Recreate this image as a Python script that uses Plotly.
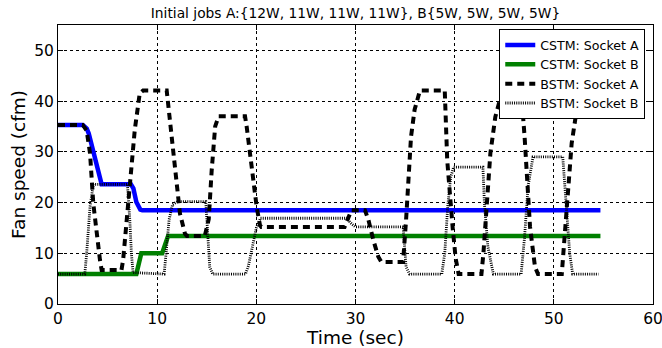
import plotly.graph_objects as go

# Fan speed traces (time in seconds, speed in cfm)
cstm_a_t = [0, 2.5, 2.9, 3.1, 4.4, 7.35, 7.6, 7.9, 8.3, 8.5, 54.7]
cstm_a_v = [35.3, 35.3, 34.6, 33.6, 23.6, 23.6, 22.8, 20.1, 18.6, 18.5, 18.5]

cstm_b_t = [0, 7.9, 8.4, 10.5, 11.1, 54.7]
cstm_b_v = [5.9, 5.9, 10.0, 10.0, 13.4, 13.4]

bstm_a_t = [0, 2.5, 2.89, 3.23, 3.56, 3.9, 4.23, 4.4, 6.4, 6.57, 7.07, 7.74, 8.24, 8.58,
            10.96, 11.3, 11.8, 12.3, 12.8, 13.0, 14.8, 15.2, 15.5, 15.85, 16.2,
            18.86, 19.03, 19.37, 19.7, 20.03, 20.37, 20.5, 28.9, 29.6, 30.95,
            31.3, 31.8, 32.3, 32.6, 34.8, 35.1, 35.3, 35.6, 35.96, 36.5,
            39.0, 39.25, 39.8, 40.1, 40.4, 42.7, 42.9, 43.2, 43.6, 44.1, 44.6, 45.1,
            46.7, 47.05, 47.3, 47.6, 48.1, 48.4, 50.8, 51.1, 51.45, 51.8, 52.3, 53.0, 54.7]
bstm_a_v = [35.3, 35.3, 34.2, 29.7, 19.8, 13.2, 8.7, 6.7, 6.7, 8.7, 19.2, 34.3, 41.5, 42.1,
            42.1, 36.2, 26.4, 17.8, 13.9, 13.4, 13.4, 16.7, 26.4, 35.0, 37.0,
            37.0, 34.9, 29.7, 23.8, 19.2, 15.5, 15.2, 15.2, 18.5, 18.5,
            16.6, 12.6, 9.3, 8.3, 8.3, 16.6, 24.5, 33.0, 38.3, 42.1,
            42.1, 28.3, 15.0, 9.0, 5.9, 5.9, 10.0, 19.8, 29.7, 36.9, 40.5, 42.1,
            42.1, 33.0, 23.2, 15.2, 7.3, 5.9, 5.9, 13.2, 23.2, 31.7, 38.2, 42.1, 42.1]

bstm_b_t = [0, 2.7, 2.89, 3.23, 3.56, 7.0, 7.24, 7.4, 7.57, 10.7, 10.9, 11.2, 11.55, 12.05,
            14.9, 15.1, 15.3, 15.6, 18.9, 19.2, 19.6, 20.0, 20.4, 29.1, 29.6, 30.0,
            34.8, 34.95, 35.1, 35.45, 38.7, 39.0, 39.3, 39.6, 39.9, 42.85, 43.0, 43.35, 43.9,
            46.7, 47.05, 47.4, 47.9, 50.9, 51.25, 51.6, 51.9, 54.5]
bstm_b_v = [5.9, 5.9, 10.0, 19.2, 23.6, 23.6, 16.6, 10.0, 6.2, 5.9, 10.0, 16.6, 19.6, 20.2,
            20.2, 13.2, 7.3, 5.9, 5.9, 7.5, 11.0, 15.0, 16.9, 16.9, 15.8, 15.2,
            15.2, 11.3, 7.3, 5.9, 5.9, 10.0, 19.2, 25.0, 27.0, 27.0, 19.8, 11.3, 5.9,
            5.9, 13.2, 23.2, 29.0, 29.0, 19.8, 10.0, 5.9, 5.9]

series_names = ["CSTM: Socket A", "CSTM: Socket B", "BSTM: Socket A", "BSTM: Socket B"]
x_ticks = [0, 10, 20, 30, 40, 50, 60]
y_ticks = [0, 10, 20, 30, 40, 50]

FONT = "DejaVu Sans"

fig = go.Figure()
fig.add_trace(go.Scatter(x=cstm_a_t, y=cstm_a_v, mode="lines", name=series_names[0],
                         line=dict(color="#0000ff", width=4.5)))
fig.add_trace(go.Scatter(x=cstm_b_t, y=cstm_b_v, mode="lines", name=series_names[1],
                         line=dict(color="#008000", width=4.5)))
fig.add_trace(go.Scatter(x=bstm_a_t, y=bstm_a_v, mode="lines", name=series_names[2],
                         line=dict(color="black", width=4, dash="7px,5px")))
fig.add_trace(go.Scatter(x=bstm_b_t, y=bstm_b_v, mode="lines", name=series_names[3],
                         line=dict(color="black", width=2.8, dash="1px,1.2px")))

axis_common = dict(
    showline=True, linecolor="black", linewidth=1, mirror="ticks",
    ticks="inside", ticklen=5, tickcolor="black", tickwidth=1,
    showgrid=True, gridcolor="black", gridwidth=0.8, griddash="dot",
    zeroline=False, automargin=False, ticklabeloverflow="allow",
    tickfont=dict(family=FONT, size=15.5, color="black"),
)

fig.update_xaxes(range=[0, 60], tickvals=x_ticks,
                 title=dict(text="Time (sec)", font=dict(family=FONT, size=18.5, color="black"),
                            standoff=1),
                 **axis_common)
fig.update_yaxes(range=[0, 55], tickvals=y_ticks,
                 title=dict(text="Fan speed (cfm)", font=dict(family=FONT, size=18.5, color="black"),
                            standoff=3),
                 **axis_common)

fig.update_layout(
    width=662, height=348,
    margin=dict(l=58, r=9, t=25, b=44),
    paper_bgcolor="white", plot_bgcolor="white",
    font=dict(family=FONT, color="black"),
    title=dict(text="Initial jobs A:{12W, 11W, 11W, 11W}, B{5W, 5W, 5W, 5W}",
               x=0.537, xanchor="center", y=0.962, yanchor="middle", yref="container",
               font=dict(family=FONT, size=13.8, color="black")),
    showlegend=True,
    legend=dict(x=0.987, y=0.985, xanchor="right", yanchor="top",
                bgcolor="white", bordercolor="black", borderwidth=1,
                font=dict(family=FONT, size=12.6, color="black"),
                itemwidth=30, tracegroupgap=0),
)

fig.write_html("out.html")
